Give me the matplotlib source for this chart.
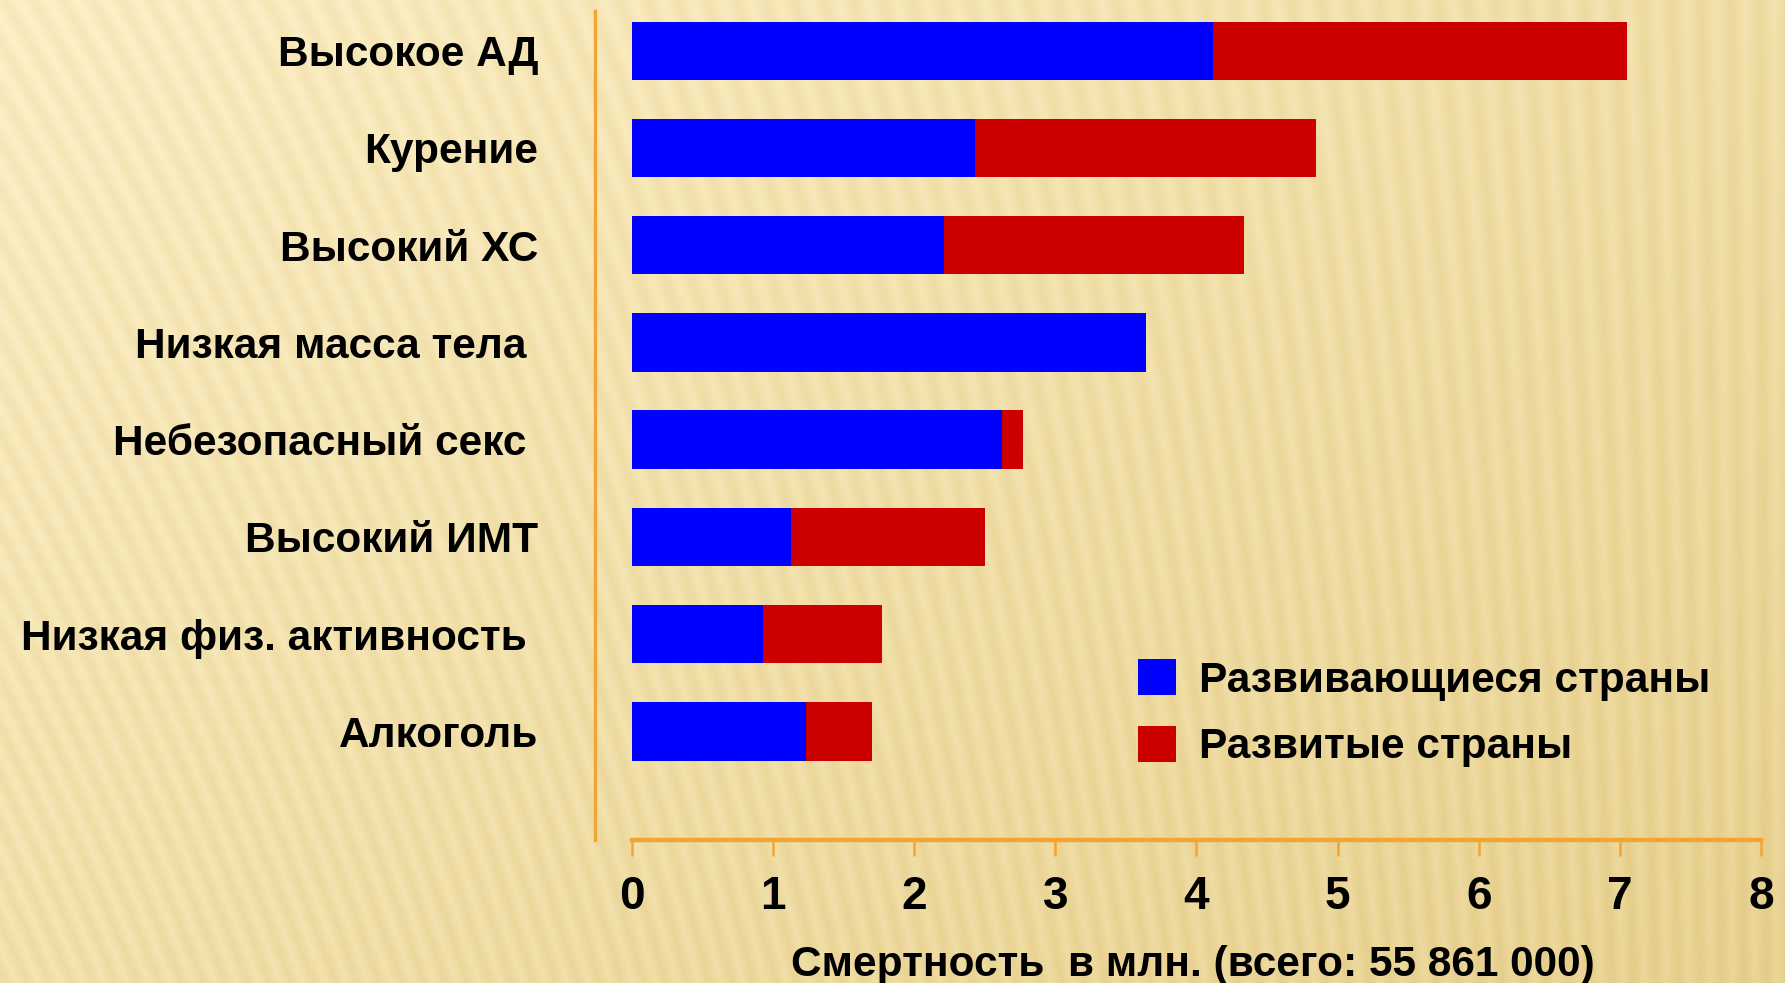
import numpy as np
import matplotlib.pyplot as plt
from matplotlib.colors import to_rgb

# risk factors, top to bottom
factors = ['Высокое АД', 'Курение', 'Высокий ХС', 'Низкая масса тела ',
           'Небезопасный секс ', 'Высокий ИМТ', 'Низкая физ. активность ', 'Алкоголь']
developing = [4.12, 2.43, 2.21, 3.64, 2.62, 1.13, 0.93, 1.23]
developed = [2.93, 2.42, 2.13, 0.0, 0.15, 1.37, 0.84, 0.47]
series_names = ['Развивающиеся страны', 'Развитые страны']
xticks = [0, 1, 2, 3, 4, 5, 6, 7, 8]
xlabel = 'Смертность  в млн. (всего: 55 861 000)'

plt.rcParams['font.family'] = ['Liberation Sans', 'DejaVu Sans']
plt.rcParams['font.weight'] = 'bold'
FS = 30.5

W, H = 1785, 983
fig = plt.figure(figsize=(W / 100, H / 100), dpi=100)

# background: cream to tan gradient with soft slanted stripes
yy, xx = np.mgrid[0:H, 0:W]
t = 0.55 * xx / W + 0.45 * yy / H
light = np.array(to_rgb('#fdf1c9'))
dark = np.array(to_rgb('#ead596'))
bg = light[None, None, :] * (1 - t[..., None]) + dark[None, None, :] * t[..., None]
slant = 0.45 * (1 - xx / W)
stripes = 0.5 + 0.5 * np.sin(2 * np.pi * (xx + slant * (H - yy)) / 22.0)
bg = bg - (0.055 * stripes)[..., None] * np.array([0.4, 0.6, 1.0])
bg = np.clip(bg, 0, 1)
bax = fig.add_axes([0, 0, 1, 1], zorder=-10)
bax.imshow(bg, aspect='auto', interpolation='bilinear')
bax.axis('off')

left, right = 595 / W, 1761 / W
bottom, top = 1 - 840 / H, 1 - 11 / H
ax = fig.add_axes([left, bottom, right - left, top - bottom])
ax.set_facecolor('none')

y = np.arange(len(factors))
b1 = ax.barh(y, developing, height=0.6, color='#0000ff', label=series_names[0])
b2 = ax.barh(y, developed, left=developing, height=0.6, color='#cc0000', label=series_names[1])

ax.set_xlim(-0.262, 8)
ax.set_ylim(8.117, -0.408)
ax.set_xticks(xticks)
ax.set_yticks(y)
ax.set_yticklabels(factors)

orange = '#f0a535'
for s in ['top', 'right']:
    ax.spines[s].set_visible(False)
ax.spines['left'].set_color(orange)
ax.spines['left'].set_linewidth(2.4)
ax.spines['bottom'].set_color(orange)
ax.spines['bottom'].set_linewidth(3.2)
ax.spines['bottom'].set_bounds(0, 8)

ax.tick_params(axis='x', length=11.5, width=1.8, color=orange, pad=14, labelsize=33)
ax.tick_params(axis='y', length=0, pad=41, labelsize=FS)
for lab in ax.get_xticklabels() + ax.get_yticklabels():
    lab.set_fontweight('bold')

ax.set_xlabel(xlabel, fontsize=FS, fontweight='bold', va='center')
ax.xaxis.set_label_coords((1193 - 595) / 1166, (840 - 965) / 829)

leg = fig.legend(handles=[b1, b2], loc='upper left',
                 bbox_to_anchor=(1138 / W, 1 - 659 / H), frameon=False,
                 fontsize=FS, handlelength=0.9, handleheight=0.94,
                 handletextpad=0.55, labelspacing=0.59, borderpad=0, borderaxespad=0)
for txt in leg.get_texts():
    txt.set_fontweight('bold')

fig.savefig('out.png', dpi=100)
